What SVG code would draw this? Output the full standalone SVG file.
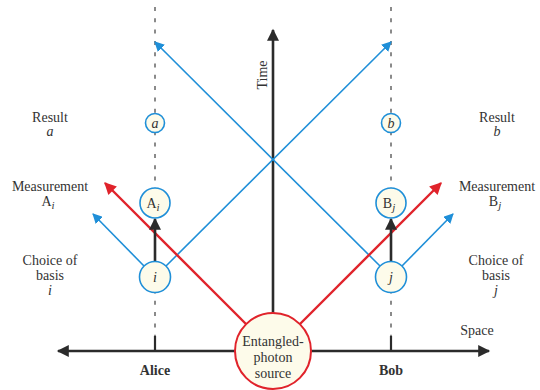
<svg xmlns="http://www.w3.org/2000/svg" width="540" height="390" viewBox="0 0 540 390" font-family="'Liberation Serif', 'DejaVu Serif', serif">
  <style>
    .lbl { font-family: "Liberation Serif", "DejaVu Serif", serif; font-size: 14px; fill: #333; text-anchor: middle; }
    .it { font-style: italic; }
    .bold { font-weight: bold; }
    .node { fill: #fdfbea; stroke: #1f8fd8; stroke-width: 1.6; }
    .src { fill: #fdfbea; stroke: #e0232b; stroke-width: 2; }
    .axis { stroke: #2b2b2b; stroke-width: 2.6; fill: none; }
    .dash { stroke: #8a8a8a; stroke-width: 2; stroke-dasharray: 4 7.3; fill: none; }
    .tick { stroke: #2b2b2b; stroke-width: 2.2; }
    .blue { stroke: #1f8fd8; stroke-width: 1.6; fill: none; }
    .red { stroke: #e0232b; stroke-width: 2.4; fill: none; }
    .black { stroke: #2b2b2b; stroke-width: 2.6; fill: none; }
  </style>
  <defs>
    <marker id="ahBlue" viewBox="0 0 10 10" refX="9" refY="5" markerWidth="10" markerHeight="10" markerUnits="userSpaceOnUse" orient="auto">
      <path d="M0,0 L10,5 L0,10 Z" fill="#1f8fd8"/>
    </marker>
    <marker id="ahRed" viewBox="0 0 10 10" refX="9" refY="5" markerWidth="14" markerHeight="12" markerUnits="userSpaceOnUse" orient="auto">
      <path d="M0,0 L10,5 L0,10 Z" fill="#e0232b"/>
    </marker>
    <marker id="ahBlack" viewBox="0 0 10 10" refX="9" refY="5" markerWidth="14" markerHeight="12" markerUnits="userSpaceOnUse" orient="auto">
      <path d="M0,0 L10,5 L0,10 Z" fill="#2b2b2b"/>
    </marker>
  </defs>

  <!-- world lines and axes -->
  <g id="connectors">
    <!-- Alice and Bob world lines -->
    <line class="dash" x1="155" y1="7" x2="155" y2="336"/>
    <line class="dash" x1="391" y1="7" x2="391" y2="336"/>
    <line class="tick" x1="155" y1="336" x2="155" y2="351"/>
    <line class="tick" x1="391" y1="336" x2="391" y2="351"/>

    <!-- space axis -->
    <line class="axis" x1="273" y1="351" x2="58" y2="351" marker-end="url(#ahBlack)"/>
    <line class="axis" x1="273" y1="351" x2="489" y2="351" marker-end="url(#ahBlack)"/>
    <!-- time axis -->
    <line class="axis" x1="273" y1="313" x2="273" y2="30" marker-end="url(#ahBlack)"/>

    <!-- light cones from the basis choices -->
    <line class="blue" x1="166" y1="266" x2="391" y2="42" marker-end="url(#ahBlue)"/>
    <line class="blue" x1="380" y1="266" x2="155" y2="42" marker-end="url(#ahBlue)"/>
    <line class="blue" x1="144" y1="266" x2="93" y2="214" marker-end="url(#ahBlue)"/>
    <line class="blue" x1="402" y1="266" x2="453" y2="214" marker-end="url(#ahBlue)"/>

    <!-- photon paths -->
    <line class="red" x1="246" y1="324" x2="105" y2="183" marker-end="url(#ahRed)"/>
    <line class="red" x1="300" y1="324" x2="441" y2="183" marker-end="url(#ahRed)"/>

    <!-- basis choice to measurement -->
    <line class="black" x1="155" y1="261" x2="155" y2="219" marker-end="url(#ahBlack)"/>
    <line class="black" x1="391" y1="261" x2="391" y2="219" marker-end="url(#ahBlack)"/>
  </g>

  <!-- Alice's side -->
  <g id="result-a">
    <circle class="node" cx="155" cy="123" r="9.5"/>
    <text class="lbl it" x="155" y="127.5" font-size="13">a</text>
  </g>
  <g id="measurement-Ai">
    <circle class="node" cx="155" cy="203" r="15"/>
    <text class="lbl" x="153" y="208">A<tspan class="it" font-size="11" dy="3">i</tspan></text>
  </g>
  <g id="choice-i">
    <circle class="node" cx="155" cy="277" r="15.5"/>
    <text class="lbl it" x="155" y="282">i</text>
  </g>

  <!-- Bob's side -->
  <g id="result-b">
    <circle class="node" cx="391" cy="123" r="9.5"/>
    <text class="lbl it" x="391" y="127.5" font-size="13">b</text>
  </g>
  <g id="measurement-Bj">
    <circle class="node" cx="391" cy="203" r="15"/>
    <text class="lbl" x="389" y="208">B<tspan class="it" font-size="11" dy="3">j</tspan></text>
  </g>
  <g id="choice-j">
    <circle class="node" cx="391" cy="277" r="15.5"/>
    <text class="lbl it" x="391" y="282">j</text>
  </g>

  <!-- source -->
  <g id="source">
    <circle class="src" cx="273" cy="351" r="38"/>
    <text class="lbl" x="273" y="346" font-size="14.5">Entangled-</text>
    <text class="lbl" x="273" y="362" font-size="14.5">photon</text>
    <text class="lbl" x="273" y="378" font-size="14.5">source</text>
  </g>

  <!-- side labels -->
  <g id="labels-left">
    <text class="lbl" x="50" y="122">Result</text>
    <text class="lbl it" x="50" y="136">a</text>
    <text class="lbl" x="50" y="191">Measurement</text>
    <text class="lbl" x="48" y="206">A<tspan class="it" font-size="11" dy="3">i</tspan></text>
    <text class="lbl" x="50" y="265">Choice of</text>
    <text class="lbl" x="50" y="280">basis</text>
    <text class="lbl it" x="50" y="295">i</text>
  </g>
  <g id="labels-right">
    <text class="lbl" x="497" y="122">Result</text>
    <text class="lbl it" x="497" y="136">b</text>
    <text class="lbl" x="497" y="191">Measurement</text>
    <text class="lbl" x="495" y="206">B<tspan class="it" font-size="11" dy="3">j</tspan></text>
    <text class="lbl" x="496" y="265">Choice of</text>
    <text class="lbl" x="496" y="280">basis</text>
    <text class="lbl it" x="496" y="295">j</text>
  </g>
  <g id="axis-labels">
    <text class="lbl" x="477" y="335">Space</text>
    <text class="lbl" transform="translate(267,75) rotate(-90)">Time</text>
    <text class="lbl bold" x="155" y="375">Alice</text>
    <text class="lbl bold" x="391" y="375">Bob</text>
  </g>
</svg>
